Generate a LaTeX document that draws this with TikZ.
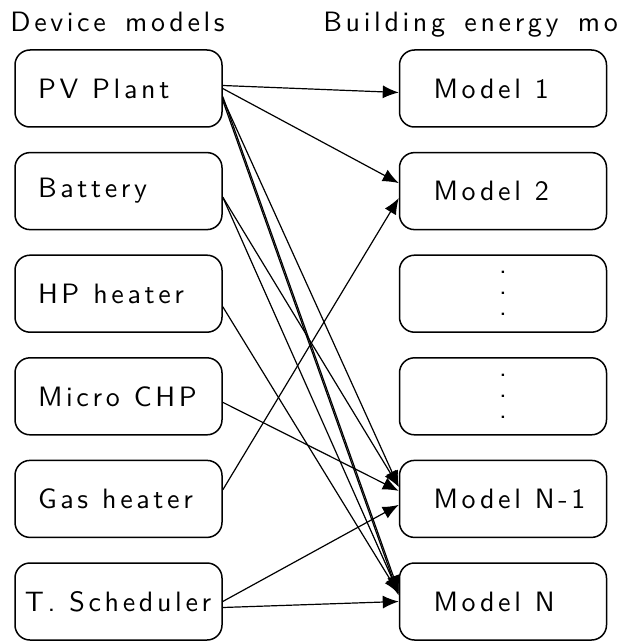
\documentclass[tikz,border=0pt]{standalone}
\usepackage{fontspec}
\setsansfont{lmsans10-regular.otf}[LetterSpace=13, WordSpace=1.5]
\usetikzlibrary{arrows.meta}

\begin{document}
\begin{tikzpicture}[x=0.5pt, y=-0.5pt,
  every node/.style={font=\sffamily\fontsize{14}{17}\selectfont},
  dev/.style={rectangle, draw, line width=0.75pt, rounded corners=7.5pt, minimum height=38.5pt, text width=80.5pt, inner xsep=11.5pt, inner ysep=0pt, align=left, execute at begin node={\spaceskip=0.5em\relax}},
  mod/.style={dev, text width=69.5pt, inner xsep=17pt},
  dotsbox/.style={mod, align=center, font=\sffamily\fontsize{14}{10.5}\selectfont},
  hdr/.style={anchor=base west, inner sep=0pt},
  arr/.style={-{Latex[length=8pt, width=6.5pt]}, line width=0.6pt}
]
\useasboundingbox (0,0) rectangle (621,642);

% Headers
\node[hdr] (hdev) at (10,32) {Device models};
\node[hdr] (hbem) at (323,32) {Building energy mo};

% Device models
\node[dev] (pv)  at (118.5,88.5)  {PV Plant};
\node[dev] (bat) at (118.5,191.1) {Battery};
\node[dev] (hp)  at (118.5,293.7) {HP heater};
\node[dev] (chp) at (118.5,396.3) {Micro CHP};
\node[dev] (gas) at (118.5,498.9) {Gas heater};
\node[dev, text width=93.5pt, inner xsep=5pt] (ts) at (118.5,601.5) {T. Scheduler};

% Building energy models
\node[mod] (m1)  at (503,88.5)  {Model 1};
\node[mod] (m2)  at (503,191.1) {Model 2};
\node[dotsbox] (d1) at (503,293.7) {.\\.\\.};
\node[dotsbox] (d2) at (503,396.3) {.\\.\\.};
\node[mod] (mn1) at (503,498.9) {\mbox{Model N-1}};
\node[mod] (mn)  at (503,601.5) {Model N};

% Connections
\draw[arr] ([yshift=1.5pt]pv.east) -- ([yshift=-2pt]m1.west);
\draw[arr] (pv.east) -- ([yshift=4pt]m2.west);
\draw[arr] ([yshift=-5pt]pv.east) -- ([yshift=6pt]mn1.west);
\draw[arr] ([yshift=-6pt]pv.east) -- ([yshift=3pt]mn.west);
\draw[arr] ([yshift=-4pt]pv.east) -- ([yshift=5pt]mn.west);
\draw[arr] ([yshift=-3pt]bat.east) -- ([yshift=6pt]mn1.west);
\draw[arr] ([yshift=-3pt]bat.east) -- ([yshift=4pt]mn.west);
\draw[arr] ([yshift=-6.5pt]hp.east) -- ([yshift=4pt]mn.west);
\draw[arr] ([yshift=-3pt]chp.east) -- ([yshift=4pt]mn1.west);
\draw[arr] ([yshift=4.5pt]gas.east) -- ([yshift=-3.5pt]m2.west);
\draw[arr] (ts.east) -- ([yshift=-3pt]mn1.west);
\draw[arr] ([yshift=-3pt]ts.east) -- (mn.west);

\end{tikzpicture}
\end{document}
